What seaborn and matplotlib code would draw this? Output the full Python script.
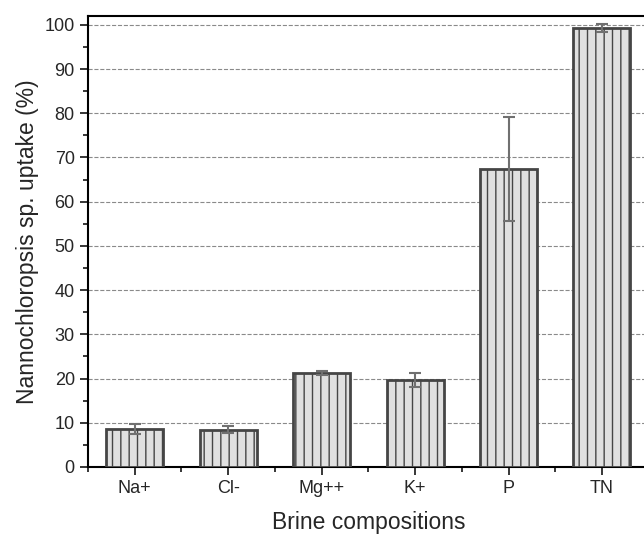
import numpy as np
import pandas as pd
import matplotlib
matplotlib.use("Agg")
import matplotlib.pyplot as plt
import seaborn as sns
from matplotlib.ticker import MultipleLocator, FixedLocator

categories = ["Na+", "Cl-", "Mg++", "K+", "P", "TN"]
uptake = [8.6, 8.4, 21.2, 19.7, 67.4, 99.3]
uptake_err = [1.1, 0.8, 0.5, 1.5, 11.7, 1.0]

df = pd.DataFrame({"composition": categories, "uptake": uptake})

sns.set_style("ticks")
plt.rcParams["font.family"] = ["Liberation Sans", "DejaVu Sans"]
plt.rcParams["hatch.color"] = "#8c8c8c"
plt.rcParams["hatch.linewidth"] = 1.0

fig = plt.figure(figsize=(6.44, 5.41), dpi=100)
ax = fig.add_axes([0.1366, 0.1368, 0.8707, 0.8336])

sns.barplot(data=df, x="composition", y="uptake", ax=ax, width=0.61,
            color="#e0e0e0", edgecolor="#454545", linewidth=2,
            errorbar=None, zorder=3)
# vertical dash texture like the original fill pattern
for bar in ax.containers[0]:
    bar.set_hatch("||")
    bar.set_facecolor("#e0e0e0")
    bar.set_edgecolor("#454545")

ax.errorbar(np.arange(len(categories)), uptake, yerr=uptake_err, fmt="none",
            ecolor="#707070", elinewidth=1.5, capsize=4, capthick=1.5, zorder=4)

ax.set_xlim(-0.5, 5.5)
ax.set_ylim(0, 102)
ax.yaxis.set_major_locator(MultipleLocator(10))
ax.yaxis.set_minor_locator(MultipleLocator(5))
ax.xaxis.set_minor_locator(FixedLocator(np.arange(-0.5, 6, 1)))
ax.grid(axis="y", which="major", linestyle="--", color="#8a8a8a", linewidth=0.8, zorder=0)
ax.set_axisbelow(True)

for s in ax.spines.values():
    s.set_linewidth(1.5)
    s.set_color("black")
ax.tick_params(axis="both", which="major", length=6, width=1.3, labelsize=13, direction="out")
ax.tick_params(axis="both", which="minor", length=3.5, width=1.3, direction="out")

ax.set_xlabel("Brine compositions", fontsize=16.5, labelpad=10)
ax.set_ylabel("Nannochloropsis sp. uptake (%)", fontsize=16.5, labelpad=4)

fig.savefig("out.png", dpi=100)
